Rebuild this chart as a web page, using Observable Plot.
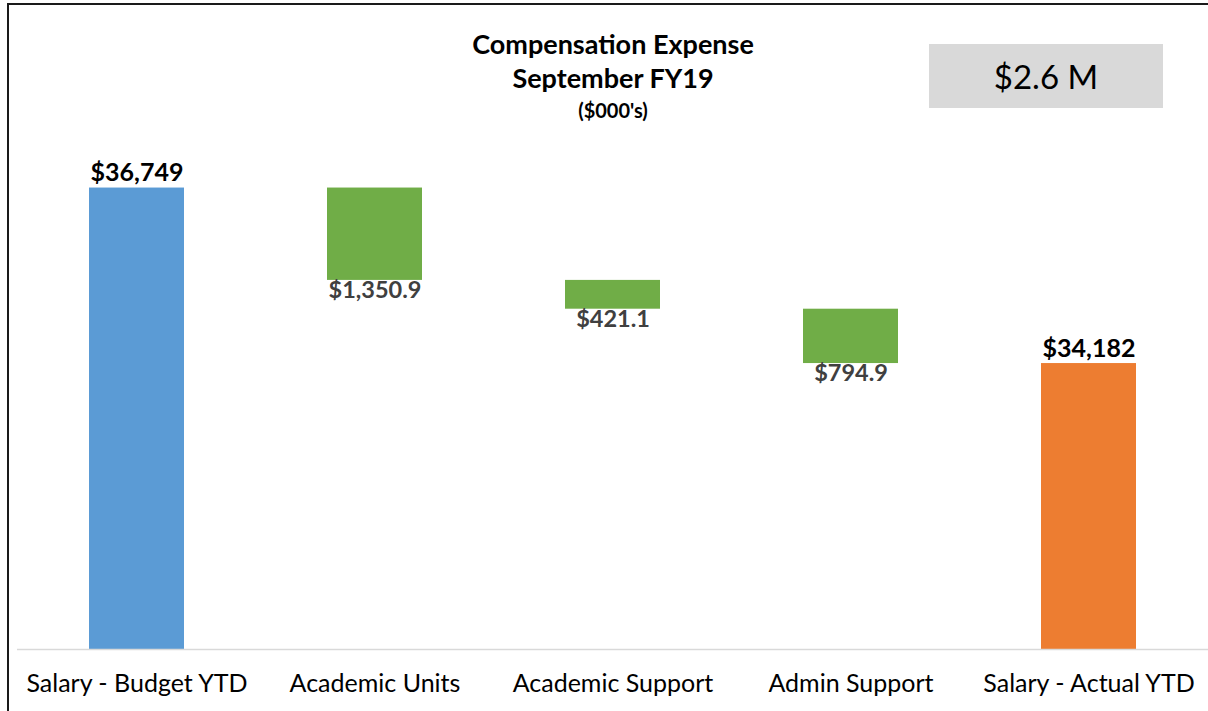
<!DOCTYPE html>
<html>
<head>
<meta charset="utf-8">
<script src="https://cdn.jsdelivr.net/npm/d3@7"></script>
<script src="https://cdn.jsdelivr.net/npm/@observablehq/plot@0.6"></script>
<style>
  html, body { margin: 0; padding: 0; background: #fff; }
  #wrap { position: relative; width: 1208px; height: 711px; overflow: hidden; font-family: Lato, "Open Sans", sans-serif; }
  #frame { position: absolute; left: 7px; top: 3px; width: 1400px; height: 900px; border: 2px solid #1a1a1a; box-sizing: border-box; pointer-events: none; }
  #title { position: absolute; left: 363px; width: 500px; top: 27px; text-align: center; font-weight: bold; color: #000; }
  #title .l { font-size: 27px; line-height: 34px; }
  #title .s { font-size: 20px; line-height: 30px; }
  #kpi { position: absolute; left: 929px; top: 44px; width: 234px; height: 64px; background: #d9d9d9; color: #000; font-size: 33px; display: flex; align-items: center; justify-content: center; }
  #chart { position: absolute; left: 0; top: 0; }
</style>
</head>
<body>
<div id="wrap">
  <div id="chart"></div>
  <div id="title"><div class="l">Compensation Expense</div><div class="l">September FY19</div><div class="s">($000's)</div></div>
  <div id="kpi">$2.6 M</div>
  <div id="frame"></div>
</div>
<script>
const categories = ["Salary - Budget YTD", "Academic Units", "Academic Support", "Admin Support", "Salary - Actual YTD"];
const kinds = ["total", "decrease", "decrease", "decrease", "total"];
const values = [36749, 1350.9, 421.1, 794.9, 34182];
const valueLabels = ["$36,749", "$1,350.9", "$421.1", "$794.9", "$34,182"];
const yDomain = [30000, 38000];
const kpiText = "$2.6 M";

let running = 0;
const rows = categories.map((c, i) => {
  let y1, y2;
  if (kinds[i] === "total") { y1 = yDomain[0]; y2 = values[i]; running = values[i]; }
  else { y2 = running; y1 = running - values[i]; running = y1; }
  return {cat: c, kind: kinds[i], y1, y2, label: valueLabels[i], idx: i};
});
const colorOf = r => r.kind === "decrease" ? "#70ad47" : (r.idx === 0 ? "#5b9bd5" : "#ed7d31");

const plot = Plot.plot({
  width: 1208,
  height: 711,
  marginLeft: 17,
  marginRight: 0,
  marginTop: 102,
  marginBottom: 62,
  style: {fontFamily: "Lato, 'Open Sans', sans-serif", background: "transparent"},
  x: {domain: categories, paddingInner: 0.6, paddingOuter: 0.3, label: null},
  y: {domain: yDomain, axis: null},
  marks: [
    Plot.barY(rows, {x: "cat", y1: "y1", y2: "y2", fill: colorOf}),
    Plot.ruleY([yDomain[0]], {stroke: "#d9d9d9", strokeWidth: 1.5}),
    Plot.axisX({tickSize: 0, tickPadding: 25, fontSize: 25, fill: "#000", label: null}),
    Plot.text(rows.filter(r => r.kind === "total"), {x: "cat", y: "y2", text: "label", lineAnchor: "bottom", dy: -7, fontSize: 25, fontWeight: "bold", fill: "#000"}),
    Plot.text(rows.filter(r => r.kind === "decrease"), {x: "cat", y: "y1", text: "label", lineAnchor: "top", dy: 1, fontSize: 23.5, fontWeight: "bold", fill: "#404040"})
  ]
});
document.getElementById("chart").appendChild(plot);
document.getElementById("kpi").textContent = kpiText;
</script>
</body>
</html>
